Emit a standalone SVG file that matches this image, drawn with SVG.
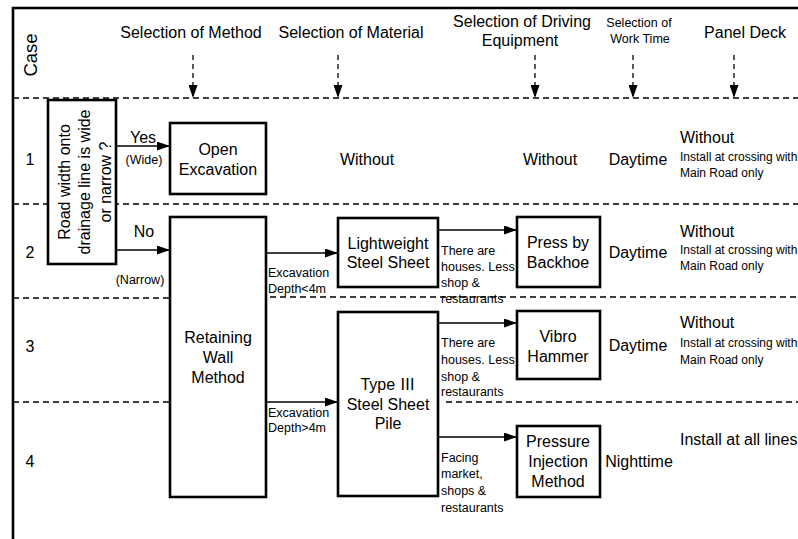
<svg xmlns="http://www.w3.org/2000/svg" width="798" height="539" viewBox="0 0 798 539">
<style>
text{font-family:"Liberation Sans","Noto Sans CJK JP",Arial,sans-serif;fill:#000}
.t{font-size:16px}
.s{font-size:12.5px}
.n{font-size:12px}
.c{text-anchor:middle}
.case{font-size:18.5px}
.cjk{font-family:"Noto Sans CJK JP","Noto Sans CJK SC",sans-serif}
.box{fill:#fff;stroke:#000;stroke-width:2.6}
.frame{stroke:#000;stroke-width:2.6;fill:none}
.row{stroke:#000;stroke-width:1.3;stroke-dasharray:6 4;fill:none}
.hd{stroke:#000;stroke-width:1.3;stroke-dasharray:5 4;fill:none}
.con{stroke:#000;stroke-width:1.3;fill:none}
</style>
<defs>
<marker id="ah" markerUnits="userSpaceOnUse" markerWidth="13" markerHeight="9" refX="13" refY="4.5" orient="auto">
<path d="M0,0 L13,4.5 L0,9 Z" fill="#000"/>
</marker>
</defs>
<rect width="798" height="539" fill="#fff"/>
<g id="frame">
<path class="frame" d="M13,539 V8 H798"/>
</g>
<g id="rows">
<line class="row" x1="13" y1="98" x2="798" y2="98"/>
<line class="row" x1="13" y1="204" x2="798" y2="204"/>
<line class="row" x1="13" y1="298" x2="170" y2="298"/>
<line class="row" x1="270" y1="297" x2="798" y2="297"/>
<line class="row" x1="13" y1="402" x2="170" y2="402"/>
<line class="row" x1="446" y1="402" x2="798" y2="402"/>
</g>
<g id="header">
<text class="case c" transform="translate(37,55) rotate(-90)">Case</text>
<text class="t c" x="191" y="38">Selection of Method</text>
<text class="t c" x="351" y="38">Selection of Material</text>
<text class="t c" x="522" y="27">Selection of Driving</text>
<text class="t c" x="520" y="46">Equipment</text>
<text class="s c" x="639" y="27">Selection of</text>
<text class="s c" x="640" y="43">Work Time</text>
<text class="t c" x="745" y="38">Panel Deck</text>
<line class="hd" x1="193" y1="55" x2="193" y2="98" marker-end="url(#ah)"/>
<line class="hd" x1="338" y1="55" x2="338" y2="98" marker-end="url(#ah)"/>
<line class="hd" x1="535" y1="55" x2="535" y2="98" marker-end="url(#ah)"/>
<line class="hd" x1="633" y1="55" x2="633" y2="98" marker-end="url(#ah)"/>
<line class="hd" x1="734" y1="55" x2="734" y2="98" marker-end="url(#ah)"/>
</g>
<g id="case-numbers">
<text class="t c" x="30" y="165">1</text>
<text class="t c" x="30" y="258">2</text>
<text class="t c" x="30" y="352">3</text>
<text class="t c" x="30" y="467">4</text>
</g>
<g id="connectors">
<line class="con" x1="116" y1="146" x2="170" y2="146" marker-end="url(#ah)"/>
<line class="con" x1="116" y1="250" x2="170" y2="250" marker-end="url(#ah)"/>
<line class="con" x1="266" y1="253" x2="338" y2="253" marker-end="url(#ah)"/>
<line class="con" x1="266" y1="402" x2="338" y2="402" marker-end="url(#ah)"/>
<line class="con" x1="438" y1="230" x2="517" y2="230" marker-end="url(#ah)"/>
<line class="con" x1="438" y1="323" x2="517" y2="323" marker-end="url(#ah)"/>
<line class="con" x1="438" y1="437" x2="517" y2="437" marker-end="url(#ah)"/>
<text class="t c" x="143" y="143">Yes</text>
<text class="s c" x="144" y="164">(Wide)</text>
<text class="t c" x="144" y="237">No</text>
<text class="s c" x="140" y="284">(Narrow)</text>
<text class="s" x="268" y="277">Excavation</text>
<text class="s" x="268" y="293">Depth&lt;4m</text>
<text class="s" x="268" y="417">Excavation</text>
<text class="s" x="268" y="432">Depth&gt;4m</text>
<text class="s" x="441" y="255">There are</text>
<text class="s" x="441" y="271">houses. Less</text>
<text class="s" x="441" y="287">shop &amp;</text>
<text class="s" x="441" y="303">restaurants</text>
<text class="s" x="441" y="347">There are</text>
<text class="s" x="441" y="364">houses. Less</text>
<text class="s" x="441" y="381">shop &amp;</text>
<text class="s" x="441" y="396">restaurants</text>
<text class="s" x="441" y="462">Facing</text>
<text class="s" x="441" y="478">market,</text>
<text class="s" x="441" y="495">shops &amp;</text>
<text class="s" x="441" y="512">restaurants</text>
</g>
<g id="decision">
<rect class="box" x="48" y="100" width="68" height="164"/>
<text class="t c" transform="translate(70,182) rotate(-90)">Road width onto</text>
<text class="t c" transform="translate(90,182) rotate(-90)">drainage line is wide</text>
<text class="t c" transform="translate(111,182) rotate(-90)">or narrow ?</text>
</g>
<g id="open-excavation">
<rect class="box" x="170" y="123" width="96" height="71"/>
<text class="t c" x="218" y="155">Open</text>
<text class="t c" x="218" y="175">Excavation</text>
</g>
<g id="retaining-wall">
<rect class="box" x="170" y="217" width="96" height="280"/>
<text class="t c" x="218" y="343">Retaining</text>
<text class="t c" x="218" y="363">Wall</text>
<text class="t c" x="218" y="383">Method</text>
</g>
<g id="lightweight">
<rect class="box" x="338" y="218" width="100" height="69"/>
<text class="t c" x="388" y="249">Lightweight</text>
<text class="t c" x="388" y="268">Steel Sheet</text>
</g>
<g id="type3">
<rect class="box" x="338" y="312" width="100" height="184"/>
<text class="t c" x="388" y="390">Type <tspan class="cjk">Ⅲ</tspan></text>
<text class="t c" x="388" y="410">Steel Sheet</text>
<text class="t c" x="388" y="429">Pile</text>
</g>
<g id="backhoe">
<rect class="box" x="517" y="217" width="83" height="70"/>
<text class="t c" x="558" y="248">Press by</text>
<text class="t c" x="558" y="268">Backhoe</text>
</g>
<g id="vibro">
<rect class="box" x="517" y="311" width="83" height="68"/>
<text class="t c" x="558" y="342">Vibro</text>
<text class="t c" x="558" y="362">Hammer</text>
</g>
<g id="pressure">
<rect class="box" x="517" y="426" width="83" height="71"/>
<text class="t c" x="558" y="447">Pressure</text>
<text class="t c" x="558" y="467">Injection</text>
<text class="t c" x="558" y="487">Method</text>
</g>
<g id="row1-values">
<text class="t c" x="367" y="165">Without</text>
<text class="t c" x="550" y="165">Without</text>
<text class="t c" x="638" y="165">Daytime</text>
<text class="t" x="680" y="143">Without</text>
<text class="n" x="680" y="161">Install at crossing with</text>
<text class="n" x="680" y="177">Main Road only</text>
</g>
<g id="row2-values">
<text class="t c" x="638" y="258">Daytime</text>
<text class="t" x="680" y="237">Without</text>
<text class="n" x="680" y="254">Install at crossing with</text>
<text class="n" x="680" y="270">Main Road only</text>
</g>
<g id="row3-values">
<text class="t c" x="638" y="351">Daytime</text>
<text class="t" x="680" y="328">Without</text>
<text class="n" x="680" y="347">Install at crossing with</text>
<text class="n" x="680" y="364">Main Road only</text>
</g>
<g id="row4-values">
<text class="t c" x="639" y="467">Nighttime</text>
<text class="t" x="680" y="445">Install at all lines</text>
</g>
</svg>
